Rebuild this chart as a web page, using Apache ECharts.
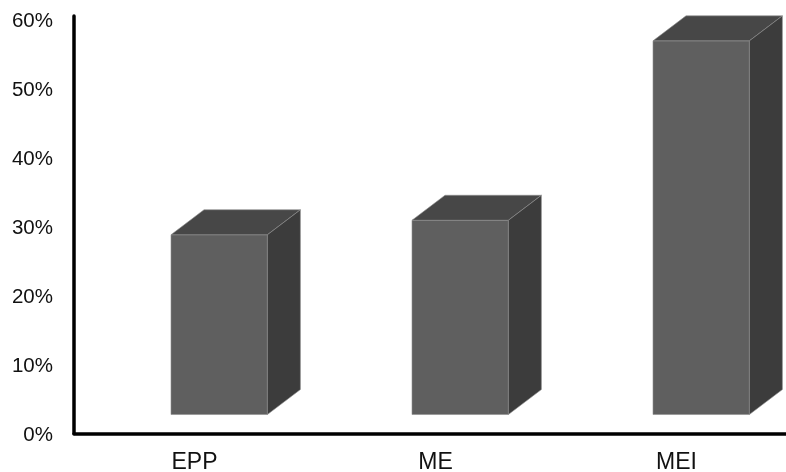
<!DOCTYPE html>
<html>
<head>
<meta charset="utf-8">
<style>html,body{margin:0;padding:0;background:#fff}#chart{width:786px;height:472px}</style>
<script src="https://cdn.jsdelivr.net/npm/echarts@6/dist/echarts.min.js"></script>
</head>
<body>
<div id="chart"></div>
<script>
const categories = ['EPP', 'ME', 'MEI'];
const shares = [28.8, 30.9, 56.9];
const floorLevel = 2.75;

const FONT = '"Liberation Sans", Arial, sans-serif';

// Column drawn as three polygons: front face, lid and right-hand side.
function renderColumn(params, api) {
  const band = api.size([1, 0])[0];
  const top = api.coord([api.value(0), api.value(1)]);
  const bottom = api.coord([api.value(0), floorLevel]);
  const x0 = top[0] - band * 0.0975;
  const x1 = x0 + band * 0.4;
  const y0 = top[1];
  const y1 = bottom[1];
  const dx = 33, dy = 25;
  const edge = { stroke: '#8e8e8e', lineWidth: 0.6 };
  return {
    type: 'group',
    children: [
      { type: 'polygon', shape: { points: [[x0, y0], [x1, y0], [x1, y1], [x0, y1]] },
        style: { fill: '#5f5f5f', ...edge } },
      { type: 'polygon', shape: { points: [[x0, y0], [x0 + dx, y0 - dy], [x1 + dx, y0 - dy], [x1, y0]] },
        style: { fill: '#474747', ...edge } },
      { type: 'polygon', shape: { points: [[x1, y0], [x1 + dx, y0 - dy], [x1 + dx, y1 - dy], [x1, y1]] },
        style: { fill: '#3c3c3c', ...edge } }
    ]
  };
}

const chart = echarts.init(document.getElementById('chart'), null, { renderer: 'canvas' });
chart.setOption({
  animation: false,
  backgroundColor: '#ffffff',
  grid: { left: 74, top: 16, width: 723, height: 417.5, containLabel: false, outerBoundsMode: 'none' },
  xAxis: {
    type: 'category',
    data: categories,
    axisTick: { show: false },
    axisLine: { lineStyle: { color: '#000', width: 3.5 } },
    axisLabel: { color: '#111', fontFamily: FONT, fontSize: 23, margin: 18 }
  },
  yAxis: {
    type: 'value',
    min: 0,
    max: 60.5,
    interval: 10,
    splitLine: { show: false },
    axisTick: { show: false },
    axisLine: { show: true, lineStyle: { color: '#000', width: 3.5 } },
    axisLabel: {
      margin: 21,
      showMaxLabel: false,
      formatter: v => '{pct|' + v + '%}',
      rich: {
        pct: { color: '#111', fontFamily: FONT, fontSize: 20.5, padding: [4, 0, 0, 0] }
      }
    }
  },
  series: [{
    type: 'custom',
    renderItem: renderColumn,
    clip: false,
    encode: { x: 0, y: 1 },
    data: categories.map((c, i) => [i, shares[i]])
  }]
});
</script>
</body>
</html>
